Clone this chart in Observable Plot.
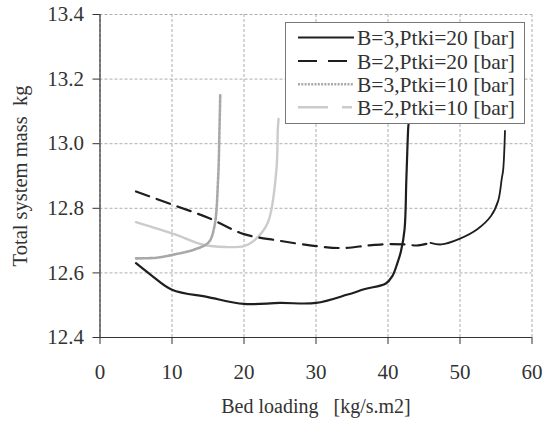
<!DOCTYPE html>
<html>
<head>
<meta charset="utf-8">
<script src="https://cdn.jsdelivr.net/npm/d3@7/dist/d3.min.js"></script>
<script src="https://cdn.jsdelivr.net/npm/@observablehq/plot@0.6/dist/plot.umd.min.js"></script>
<style>
  html, body { margin: 0; padding: 0; background: #fff; }
  #wrap { position: relative; width: 544px; height: 427px; }
  #legend { position: absolute; left: 285px; top: 22px; width: 240px; height: 102px;
            border: 1px solid #777; background: #fff; box-sizing: border-box; }
  svg text { font-family: 'Liberation Serif', 'Times New Roman', serif; white-space: pre; }
</style>
</head>
<body>
<div id="wrap"></div>
<script>
// Series: B=3, Ptki=20 [bar]
const s1x = [5, 7, 10, 15, 20, 25, 30, 34.4, 36.8, 39.7, 40.6, 41.3, 41.8, 42.3, 42.55, 42.8, 42.85];
const s1y = [12.63, 12.595, 12.548, 12.525, 12.504, 12.507, 12.507, 12.533, 12.55, 12.567, 12.59, 12.63, 12.667, 12.735, 12.89, 13.046, 13.06];
// Series: B=2, Ptki=20 [bar]
const s2x = [5, 10.2, 15.1, 20, 24.8, 30, 33.7, 37.3, 39.9, 42.3, 44.2, 45.9, 47.4, 50, 52.4, 54.3, 55.3, 55.8, 56.0, 56.25];
const s2y = [12.852, 12.81, 12.77, 12.72, 12.70, 12.683, 12.677, 12.685, 12.689, 12.688, 12.685, 12.693, 12.688, 12.706, 12.735, 12.776, 12.823, 12.892, 12.92, 13.04];
// Series: B=3, Ptki=10 [bar]
const s3x = [5, 7.9, 10.3, 13.2, 15.1, 15.9, 16.4, 16.6, 16.7];
const s3y = [12.645, 12.647, 12.657, 12.673, 12.695, 12.745, 12.89, 13.05, 13.15];
// Series: B=2, Ptki=10 [bar]
const s4x = [5, 10.3, 14.2, 17.5, 20, 21.4, 23.3, 24.5, 24.7, 24.8];
const s4y = [12.757, 12.72, 12.688, 12.68, 12.683, 12.70, 12.755, 12.92, 13.046, 13.077];

const seriesNames = ["B=3,Ptki=20 [bar]", "B=2,Ptki=20 [bar]", "B=3,Ptki=10 [bar]", "B=2,Ptki=10 [bar]"];
const xTicks = [0, 10, 20, 30, 40, 50, 60];
const yTicks = [12.4, 12.6, 12.8, 13.0, 13.2, 13.4];

const toRows = (xs, ys) => xs.map((x, i) => ({x, y: ys[i]}));
const r1 = toRows(s1x, s1y), r2 = toRows(s2x, s2y), r3 = toRows(s3x, s3y), r4 = toRows(s4x, s4y);

const styles = [
  {stroke: "#1e1e1e", strokeWidth: 2.2, dash: null},
  {stroke: "#1e1e1e", strokeWidth: 2.2, dash: "14,8"},
  {stroke: "#a8a8a8", strokeWidth: 2.6, dash: "3,1.5"},
  {stroke: "#cbcbcb", strokeWidth: 2.4, dash: null}
];

const chart = Plot.plot({
  width: 544, height: 427,
  marginLeft: 99.5, marginRight: 12.5, marginTop: 14, marginBottom: 90,
  style: {fontFamily: "'Liberation Serif', 'Times New Roman', serif", fontSize: "21px", color: "#333", background: "#fff"},
  x: {domain: [0, 60]},
  y: {domain: [12.4, 13.4]},
  marks: [
    Plot.gridX(xTicks, {stroke: "#999", strokeOpacity: 1, strokeWidth: 0.8, strokeDasharray: "3,2"}),
    Plot.gridY(yTicks, {stroke: "#999", strokeOpacity: 1, strokeWidth: 0.8, strokeDasharray: "3,2"}),
    Plot.axisX(xTicks, {tickSize: 7, tickPadding: 20, stroke: "#333", label: null, fontSize: 21, tickFormat: d => String(d)}),
    Plot.axisY(yTicks, {tickSize: 7, tickPadding: 9, stroke: "#333", label: null, fontSize: 21, tickFormat: d => d.toFixed(1)}),
    Plot.ruleX([0], {stroke: "#333", strokeWidth: 1.2}),
    Plot.ruleY([12.4], {stroke: "#333", strokeWidth: 1.2}),
    Plot.line(r4, {x: "x", y: "y", stroke: styles[3].stroke, strokeWidth: styles[3].strokeWidth, curve: "catmull-rom"}),
    Plot.line(r3, {x: "x", y: "y", stroke: styles[2].stroke, strokeWidth: styles[2].strokeWidth, strokeDasharray: styles[2].dash, curve: "catmull-rom"}),
    Plot.line(r2.filter(d => d.x <= 46), {x: "x", y: "y", stroke: styles[1].stroke, strokeWidth: styles[1].strokeWidth, strokeDasharray: styles[1].dash, curve: "catmull-rom"}),
    Plot.line(r2.filter(d => d.x >= 45.9), {x: "x", y: "y", stroke: styles[1].stroke, strokeWidth: 1.8, curve: "catmull-rom"}),
    Plot.line(r1, {x: "x", y: "y", stroke: styles[0].stroke, strokeWidth: styles[0].strokeWidth, curve: "catmull-rom"}),
    Plot.text(["Total system mass  kg"], {frameAnchor: "left", textAnchor: "middle", dx: -80, rotate: -90, fontSize: 20.5, fill: "#333"}),
    Plot.text(["Bed loading   [kg/s.m2]"], {frameAnchor: "bottom", textAnchor: "middle", dy: 75, fontSize: 20, fill: "#333"})
  ]
});

const wrap = document.getElementById("wrap");
wrap.appendChild(chart);

// Legend
const NS = "http://www.w3.org/2000/svg";
const leg = document.createElement("div");
leg.id = "legend";
wrap.appendChild(leg);
const ls = document.createElementNS(NS, "svg");
ls.setAttribute("width", 238); ls.setAttribute("height", 100);
ls.style.fontSize = "21.5px";
leg.appendChild(ls);
const rowY = [14.5, 38, 61.3, 84.3];
const legDash = [null, "19,11", "2,1.3", "30,14,10"];
seriesNames.forEach((name, i) => {
  const ln = document.createElementNS(NS, "line");
  ln.setAttribute("x1", 12); ln.setAttribute("x2", 68);
  ln.setAttribute("y1", rowY[i]); ln.setAttribute("y2", rowY[i]);
  ln.setAttribute("stroke", styles[i].stroke);
  ln.setAttribute("stroke-width", i < 2 ? 2.2 : 2.4);
  if (legDash[i]) ln.setAttribute("stroke-dasharray", legDash[i]);
  ls.appendChild(ln);
  const tx = document.createElementNS(NS, "text");
  tx.setAttribute("x", 71); tx.setAttribute("y", rowY[i]); tx.setAttribute("dy", "0.35em");
  tx.setAttribute("fill", "#333");
  tx.textContent = name;
  ls.appendChild(tx);
});
</script>
</body>
</html>
